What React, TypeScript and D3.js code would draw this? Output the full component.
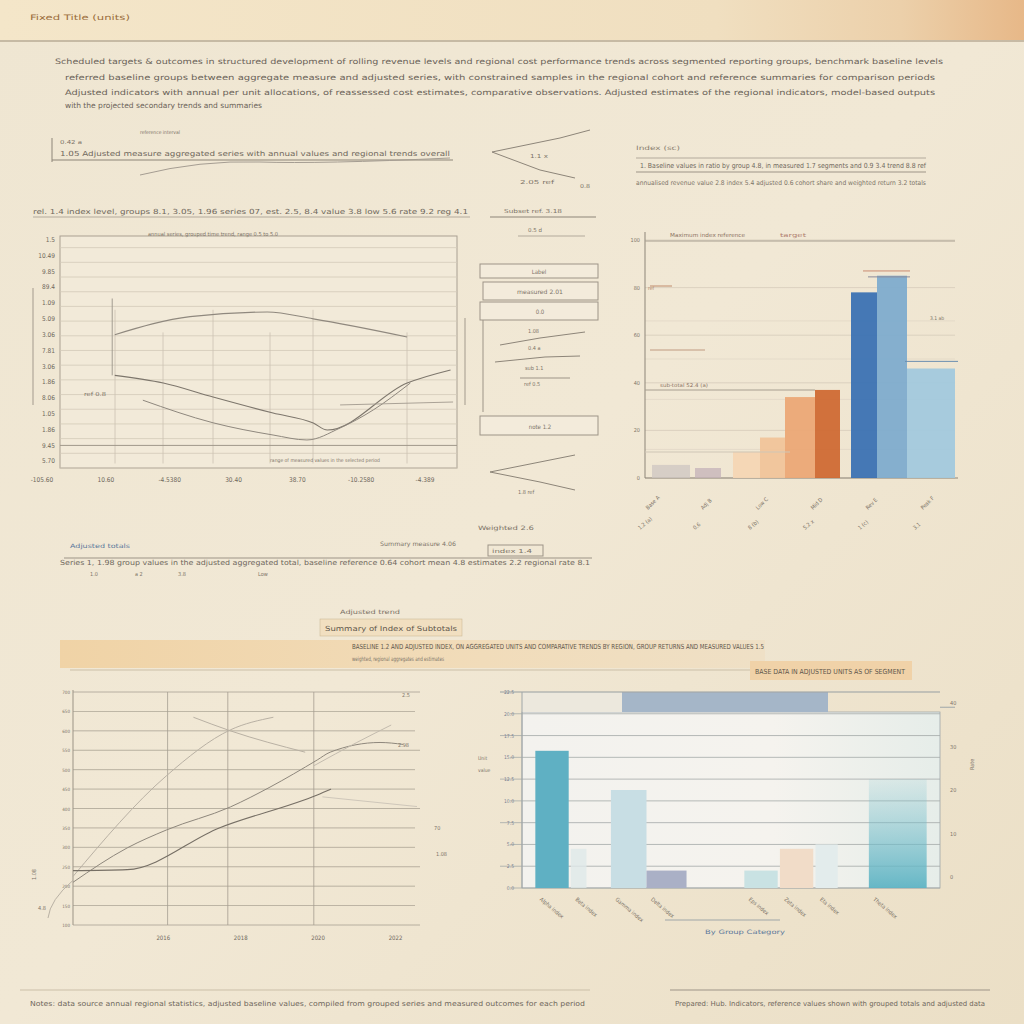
import React from "react";
import * as d3 from "d3";

// ---------- DATA ----------
const lineXLabels = ["-105.60", "10.60", "-4.5380", "30.40", "38.70", "-10.2580", "-4.389"];
const lineYTicks = ["1.5", "10.49", "9.85", "89.4", "1.09", "5.09", "3.06", "7.81", "3.06", "1.86", "8.06", "1.05", "1.86", "9.45", "5.70"];
const lineA = [[1.14, 59], [2.32, 67], [3.53, 69], [4.25, 66], [5.72, 58]];
const lineB = [[1.14, 41], [1.9, 37.6], [2.68, 31.4], [3.62, 24.3], [4.25, 19.9], [4.47, 16.8], [5.72, 37.6], [6.4, 43.4]];
const lineC = [[1.58, 30], [2.68, 20], [3.62, 14.6], [4.15, 12.4], [4.67, 17.7], [5.19, 25.7], [5.77, 37.6]];
const lineD = [[4.67, 27.9], [6.44, 29.2]];

const barCats = ["Q1 base", "Q1 adj", "Q2 low", "Q2 lowb", "Q2 mid", "Q2 rev", "Q3 peak", "Q3 adj", "Q4 est"];
const barVals = [5.5, 4.2, 11, 17, 34, 37, 78, 85, 46];
const barStart = [652, 695, 733, 760, 785, 815, 851, 877, 907];
const barEnd = [690, 721, 760, 785, 815, 840, 877, 907, 955];
const barColors = ["#cdc6c2", "#c4b1b8", "#f4d6b4", "#f0c49a", "#eba876", "#cf6a34", "#3b72b3", "#7eaccd", "#a2c9dd"];
const barYTicks = [0, 20, 40, 60, 80, 100];
const barXLabels = ["Base A", "Adj B", "Low C", "Mid D", "Rev E", "Peak F"];
const barXLabels2 = ["1.2 (a)", "0.6", "8 (b)", "5.2 x", "1 (c)", "3.1"];

const trendXLabels = ["2016", "2018", "2020", "2022"];
const trendYTicks = [0, 1, 2, 3, 4, 5, 6, 7, 8, 9, 10, 11, 12];
const trend1 = [[0, 2.5], [1.09, 7.7], [1.83, 10.05], [2.33, 10.7]];
const trend2 = [[0, 2.2], [0.63, 3.97], [1.09, 4.9], [1.83, 6.08], [2.29, 7.1], [2.84, 8.5], [2.99, 8.9], [3.57, 9.4], [3.84, 9.3]];
const trend3 = [[0, 2.8], [0.63, 2.85], [1.7, 5.0], [2.84, 6.7], [3.0, 7.0]];
const trend4 = [[1.4, 10.7], [1.83, 10.0], [2.7, 8.9]];
const trend5 = [[2.8, 8.2], [3.3, 9.4], [3.7, 10.3]];
const trend6 = [[2.9, 6.6], [4.0, 6.1]];

const colCats = ["Alpha", "Beta", "Gamma", "Delta", "Eps", "Zeta", "Eta", "Theta"];
const colVals = [6.3, 1.8, 4.5, 0.8, 0.8, 1.8, 2.0, 5.0];
const colX = [0.3, 1.1, 2.0, 2.8, 5.0, 5.8, 6.6, 7.8];
const colW = [0.75, 0.35, 0.8, 0.9, 0.75, 0.75, 0.5, 1.3];
const colColors = ["#5fb0c3", "#dfe9e8", "#c8dee4", "#aab0c6", "#c9e2e3", "#f1dcc8", "#e3ecec", "#7fc3cf"];
const colYTicks = [0, 1, 2, 3, 4, 5, 6, 7, 8, 9];

const paraLines = [
  "Scheduled targets & outcomes in structured development of rolling revenue levels and regional cost performance trends across segmented reporting groups, benchmark baseline levels",
  "referred baseline groups between aggregate measure and adjusted series, with constrained samples in the regional cohort and reference summaries for comparison periods",
  "Adjusted indicators with annual per unit allocations, of reassessed cost estimates, comparative observations. Adjusted estimates of the regional indicators, model-based outputs",
  "with the projected secondary trends and summaries",
];

// ---------- helpers ----------
const FONT = "DejaVu Sans Condensed, DejaVu Sans, sans-serif";
const T = (p: any) => (
  <text fontFamily={FONT} fontSize={p.fs || 6} fill={p.fill || "#7d7468"} x={p.x} y={p.y}
    textLength={p.w} lengthAdjust={p.w ? "spacingAndGlyphs" : undefined} textAnchor={p.anchor || "start"}
    transform={p.rot ? `rotate(${p.rot},${p.x},${p.y})` : undefined} opacity={p.op || 1}>{p.t}</text>
);

export default function App() {
  // chart 1
  const x1 = d3.scaleLinear().domain([0, 6]).range([42, 425]);
  const y1 = d3.scaleLinear().domain([0, 100]).range([468, 242]);
  const ln1 = d3.line<number[]>().x(d => x1(d[0])).y(d => y1(d[1])).curve(d3.curveMonotoneX);
  // chart 2
  const x2 = d3.scaleLinear().domain([0, 1]).range([0, 1]);
  const y2 = d3.scaleLinear().domain([0, 100]).range([478, 240]);
  // chart 3
  const x3 = d3.scaleLinear().domain([0, 4]).range([73, 417]);
  const y3 = d3.scaleLinear().domain([0, 12]).range([925, 692]);
  const ln3 = d3.line<number[]>().x(d => x3(d[0])).y(d => y3(d[1])).curve(d3.curveMonotoneX);
  // chart 4
  const x4 = d3.scaleLinear().domain([0, 9.4]).range([522, 940]);
  const y4 = d3.scaleLinear().domain([0, 9]).range([888, 692]);

  return (
    <svg width={1024} height={1024} style={{ position: "absolute", left: 0, top: 0 }}>
      <defs>
        <linearGradient id="hdr" x1="0" x2="1">
          <stop offset="0" stopColor="#f4e6c9" />
          <stop offset="0.7" stopColor="#f0dfc0" />
          <stop offset="0.88" stopColor="#ecd0aa" />
          <stop offset="1" stopColor="#e7b888" />
        </linearGradient>
        <linearGradient id="bg" x1="0" y1="0" x2="1" y2="1">
          <stop offset="0" stopColor="#efe6d2" />
          <stop offset="0.5" stopColor="#f1e8d5" />
          <stop offset="1" stopColor="#ebdfc6" />
        </linearGradient>
        <linearGradient id="band" x1="0" x2="1">
          <stop offset="0" stopColor="#f0d3a6" />
          <stop offset="0.6" stopColor="#f1dcba" />
          <stop offset="1" stopColor="#efe0c6" />
        </linearGradient>
        <linearGradient id="plot4" x1="0" x2="1">
          <stop offset="0" stopColor="#f3f2ee" />
          <stop offset="0.6" stopColor="#f5f3ee" />
          <stop offset="1" stopColor="#e6ede9" />
        </linearGradient>
        <linearGradient id="tealfade" x1="0" y1="0" x2="0" y2="1">
          <stop offset="0" stopColor="#7fc3cf" stopOpacity="0.15" />
          <stop offset="1" stopColor="#5fb4c4" stopOpacity="0.95" />
        </linearGradient>
      </defs>
      <rect width={1024} height={1024} fill="url(#bg)" />
      <rect width={1024} height={40} fill="url(#hdr)" />
      <line x1={0} x2={1024} y1={41} y2={41} stroke="#b9ab95" strokeWidth={1.5} />
      <T x={30} y={20} t="Fixed Title (units)" w={100} fs={7.5} fill="#9a6d3c" />

      {paraLines.map((s, i) => (
        <T key={i} x={i === 0 ? 55 : 65} y={64 + i * 15.5 - (i === 3 ? 3 : 0)} t={s} w={i === 3 ? 197 : i === 0 ? 888 : 870} fs={7.5} fill="#6a6258" />
      ))}

      {/* top-left annotation rows */}
      <g>
        <line x1={52} x2={453} y1={160} y2={160} stroke="#8d8579" strokeWidth={1} />
        <line x1={52} x2={52} y1={138} y2={162} stroke="#8d8579" />
        <T x={140} y={134} t="reference interval" w={40} fs={5} />
        <T x={60} y={144} t="0.42 a" w={22} fs={5.5} />
        <T x={60} y={156} t="1.05 Adjusted measure aggregated series with annual values and regional trends overall" w={390} fs={7} fill="#6f675c" />
        <path d="M140,175 Q200,160 260,162 T450,158" fill="none" stroke="#a59d92" />
        <T x={33} y={214} t="rel. 1.4 index level, groups 8.1, 3.05, 1.96 series 07, est. 2.5, 8.4 value 3.8 low 5.6 rate 9.2 reg 4.1" w={435} fs={7} fill="#6f675c" />
        <line x1={33} x2={470} y1={217} y2={217} stroke="#b3aa9c" />
        <line x1={490} x2={596} y1={217} y2={217} stroke="#8d8579" />
        <T x={504} y={213} t="Subset ref. 3.18" w={58} fs={5.5} />
        <T x={528} y={232} t="0.5 d" w={14} fs={5.5} />
        <line x1={518} x2={585} y1={236} y2={236} stroke="#b3aa9c" />
        <path d="M492,152 L560,138 L590,130" fill="none" stroke="#8d8579" />
        <path d="M492,152 L540,170 L575,178" fill="none" stroke="#8d8579" />
        <T x={530} y={158} t="1.1 x" w={18} fs={5.5} />
        <T x={520} y={184} t="2.05 ref" w={34} fs={5.5} />
        <T x={580} y={188} t="0.8" w={10} fs={5.5} />
      </g>

      {/* top-right annotation */}
      <T x={636} y={150} t="Index (sc)" w={44} fs={6} fill="#8a7f70" />
      <line x1={636} x2={926} y1={158} y2={158} stroke="#b3aa9c" />
      <T x={640} y={168} t="1. Baseline values in ratio by group 4.8, in measured 1.7 segments and 0.9 3.4 trend 8.8 ref" w={286} fs={7} fill="#6f675c" />
      <line x1={636} x2={926} y1={172} y2={172} stroke="#9d9487" />
      <T x={636} y={185} t="annualised revenue value 2.8 index 5.4 adjusted 0.6 cohort share and weighted return 3.2 totals" w={290} fs={6.5} />

      {/* ---------- Chart 1 ---------- */}
      <rect x={60} y={236} width={397} height={232} fill="#f2ead9" stroke="#a9a092" />
      {d3.range(0, 101, 6.5).map((v, i) => (
        <line key={i} x1={60} x2={457} y1={y1(v)} y2={y1(v)} stroke="#d3cab9" strokeWidth={0.8} />
      ))}
      {[115, 163, 213, 270, 313, 407].map((xx, i) => (
        <line key={i} x1={xx} x2={xx} y1={y1(i % 2 ? 60 : 70)} y2={y1(2)} stroke="#cbc2b2" strokeWidth={0.8} />
      ))}
      <line x1={60} x2={457} y1={y1(10)} y2={y1(10)} stroke="#9f978a" />
      {lineYTicks.map((s, i) => (
        <T key={i} x={55} y={y1(100 - i * 7)} t={s} fs={6.5} anchor="end" fill="#6f675c" />
      ))}
      {lineXLabels.map((s, i) => (
        <T key={i} x={x1(i)} y={482} t={s} fs={6.5} anchor="middle" fill="#6f675c" />
      ))}
      <T x={148} y={236} t="annual series, grouped time trend, range 0.5 to 5.0" w={130} fs={5.5} />
      <path d={`M${x1(1.1)},${y1(75)} L${x1(1.1)},${y1(41)}`} fill="none" stroke="#9a9388" strokeWidth={0.9} />
      <path d={ln1(lineA) || ""} fill="none" stroke="#8f887e" strokeWidth={1.1} />
      <path d={ln1(lineB) || ""} fill="none" stroke="#7d766c" strokeWidth={1.1} />
      <path d={ln1(lineC) || ""} fill="none" stroke="#8f887e" strokeWidth={1} />
      <path d={ln1(lineD) || ""} fill="none" stroke="#a19a8f" strokeWidth={0.9} />
      <line x1={33} x2={33} y1={288} y2={405} stroke="#a39a8d" />
      <line x1={465} x2={465} y1={318} y2={405} stroke="#a39a8d" />
      <T x={84} y={396} t="ref 0.8" w={22} fs={5.5} />
      <T x={270} y={462} t="range of measured values in the selected period" w={110} fs={5} />

      {/* middle panel */}
      <g>
        <rect x={480} y={264} width={118} height={14} fill="#f3ebdb" stroke="#9d9487" />
        <T x={539} y={274} t="Label" fs={6} anchor="middle" />
        <rect x={483} y={282} width={115} height={18} fill="#f3ebdb" stroke="#9d9487" />
        <T x={540} y={294} t="measured 2.01" w={46} fs={6} anchor="middle" />
        <rect x={480} y={302} width={118} height={18} fill="#f3ebdb" stroke="#9d9487" />
        <T x={540} y={314} t="0.0" fs={6} anchor="middle" />
        <line x1={483} x2={483} y1={320} y2={412} stroke="#9d9487" />
        <T x={528} y={333} t="1.08" fs={5.5} />
        <path d="M500,345 L540,338 L585,332" fill="none" stroke="#8d8579" />
        <T x={528} y={350} t="0.4 a" fs={5.5} />
        <path d="M495,362 L545,357 L580,356" fill="none" stroke="#8d8579" />
        <T x={525} y={370} t="sub 1.1" fs={5.5} />
        <line x1={520} x2={570} y1={378} y2={378} stroke="#9d9487" />
        <T x={524} y={386} t="ref 0.5" fs={5.5} />
        <rect x={480} y={416} width={118} height={19} fill="#f3ebdb" stroke="#9d9487" />
        <T x={540} y={429} t="note 1.2" fs={6} anchor="middle" />
        <path d="M490,472 L540,462 L575,455" fill="none" stroke="#8d8579" />
        <path d="M490,472 L540,482 L575,490" fill="none" stroke="#8d8579" />
        <T x={518} y={494} t="1.8 ref" fs={5.5} />
      </g>

      {/* ---------- Chart 2 ---------- */}
      {barYTicks.map((v, i) => (
        <line key={i} x1={645} x2={955} y1={y2(v)} y2={y2(v)} stroke="#d5cbba" strokeWidth={0.8} />
      ))}
      {[12, 33, 50, 66].map((v, i) => (
        <line key={"h" + i} x1={645} x2={955} y1={y2(v)} y2={y2(v)} stroke="#ddd3c2" strokeWidth={0.6} />
      ))}
      <line x1={645} x2={645} y1={232} y2={478} stroke="#8d8579" />
      <line x1={645} x2={958} y1={478} y2={478} stroke="#8d8579" />
      <line x1={645} x2={955} y1={241} y2={241} stroke="#a79e90" />
      <T x={670} y={237} t="Maximum index reference" w={75} fs={5.5} fill="#8a7060" />
      <T x={780} y={237} t="target" w={26} fs={5.5} fill="#b08070" />
      {barCats.map((c, i) => (
        <rect key={c} x={x2(barStart[i])} y={y2(barVals[i])} width={x2(barEnd[i]) - x2(barStart[i])} height={478 - y2(barVals[i])}
          fill={barColors[i]} opacity={i < 2 ? 0.75 : 0.95} />
      ))}
      <line x1={863} x2={910} y1={y2(87)} y2={y2(87)} stroke="#c98c70" />
      <line x1={868} x2={910} y1={y2(84.5)} y2={y2(84.5)} stroke="#8a8a9a" />
      <line x1={905} x2={958} y1={y2(49)} y2={y2(49)} stroke="#6b8fb0" />
      {barYTicks.map((v, i) => (
        <T key={i} x={640} y={y2(v) + 2} t={String(v)} fs={5.5} anchor="end" />
      ))}
      <T x={648} y={290} t="ref" fs={5} fill="#b07f60" />
      <line x1={650} x2={672} y1={286} y2={286} stroke="#c08c6c" />
      <line x1={650} x2={705} y1={350} y2={350} stroke="#c09a80" />
      <T x={660} y={387} t="sub-total 52.4 (a)" w={48} fs={5} fill="#8a7060" />
      <line x1={645} x2={815} y1={390} y2={390} stroke="#a79e90" />
      <line x1={645} x2={790} y1={452} y2={452} stroke="#cfc6b6" />
      <T x={930} y={320} t="3.1 ab" fs={5} />
      {barXLabels.map((c, i) => (
        <T key={c} x={648 + i * 55} y={510} t={c} fs={5.5} rot={-45} />
      ))}
      {barXLabels2.map((s, i) => (
        <T key={i} x={640 + i * 55} y={530} t={s} fs={5.5} rot={-40} />
      ))}

      {/* bottom-left annotation */}
      <T x={70} y={548} t="Adjusted totals" w={60} fs={6} fill="#5d7a9c" />
      <T x={380} y={546} t="Summary measure 4.06" w={76} fs={6} />
      <T x={478} y={530} t="Weighted 2.6" w={56} fs={6} />
      <rect x={488} y={545} width={55} height={11} fill="none" stroke="#9d9487" />
      <T x={492} y={553} t="index 1.4" w={40} fs={5.5} />
      <line x1={64} x2={592} y1={558} y2={558} stroke="#9d9487" />
      <T x={60} y={565} t="Series 1, 1.98 group values in the adjusted aggregated total, baseline reference 0.64 cohort mean 4.8 estimates 2.2 regional rate 8.1" w={530} fs={7} fill="#6f675c" />
      <T x={90} y={576} t="1.0" fs={5.5} />
      <T x={135} y={576} t="a 2" fs={5.5} />
      <T x={178} y={576} t="3.8" fs={5.5} />
      <T x={258} y={576} t="Low" fs={5.5} />

      {/* orange band */}
      <rect x={320} y={619} width={142} height={17} fill="#f1dfc0" stroke="#c8b28e" strokeWidth={0.5} />
      <T x={340} y={614} t="Adjusted trend" w={60} fs={6} />
      <T x={325} y={631} t="Summary of Index of Subtotals" w={132} fs={7} fill="#5e564b" />
      <rect x={60} y={640} width={705} height={28} fill="url(#band)" />
      <T x={352} y={649} t="BASELINE 1.2 AND ADJUSTED INDEX, ON AGGREGATED UNITS AND COMPARATIVE TRENDS BY REGION, GROUP RETURNS AND MEASURED VALUES 1.5" w={412} fs={7} fill="#5e564b" />
      <T x={352} y={661} t="weighted, regional aggregates and estimates" w={92} fs={6} />
      <rect x={750} y={661} width={162} height={19} fill="#f0d2a8" />
      <T x={755} y={674} t="BASE DATA IN ADJUSTED UNITS AS OF SEGMENT" w={150} fs={7} fill="#5e564b" />
      <line x1={70} x2={750} y1={670} y2={670} stroke="#cbbfa8" />

      {/* ---------- Chart 3 ---------- */}
      {trendYTicks.map((v) => (
        <line key={v} x1={73} x2={v % 3 === 0 ? 420 : 415} y1={y3(v)} y2={y3(v)} stroke="#9b9385" strokeWidth={0.8} opacity={0.8} />
      ))}
      {[1.1, 1.8, 2.8].map((v, i) => (
        <line key={i} x1={x3(v)} x2={x3(v)} y1={692} y2={925} stroke="#a59d90" strokeWidth={0.8} />
      ))}
      <line x1={73} x2={73} y1={690} y2={925} stroke="#9b9385" />
      {trendYTicks.map((v) => (
        <T key={v} x={70} y={y3(v) + 2} t={String(100 + v * 50)} fs={4.5} anchor="end" />
      ))}
      {trendXLabels.map((s, i) => (
        <T key={s} x={x3(1.05 + i * 0.9)} y={940} t={s} fs={6} anchor="middle" fill="#6f675c" />
      ))}
      <path d={ln3(trend1) || ""} fill="none" stroke="#b9b1a4" strokeWidth={1} />
      <path d={ln3(trend2) || ""} fill="none" stroke="#8e877c" strokeWidth={1} />
      <path d={ln3(trend3) || ""} fill="none" stroke="#766f65" strokeWidth={1.1} />
      <path d={ln3(trend4) || ""} fill="none" stroke="#b9b1a4" strokeWidth={1} />
      <path d={ln3(trend5) || ""} fill="none" stroke="#c3bbae" strokeWidth={1} />
      <path d={ln3(trend6) || ""} fill="none" stroke="#cfc7ba" strokeWidth={1} />
      <path d={`M${x3(0)},${y3(2.3)} Q50,900 48,918`} fill="none" stroke="#b9b1a4" />
      <T x={36} y={880} t="1.08" fs={5.5} rot={-90} />
      <T x={38} y={910} t="4.8" fs={5.5} />
      <T x={434} y={830} t="70" fs={5.5} />
      <T x={436} y={856} t="1.08" fs={5.5} />
      <T x={402} y={697} t="2.5" fs={5.5} />
      <T x={398} y={747} t="2.98" fs={5.5} />

      {/* ---------- Chart 4 ---------- */}
      <rect x={522} y={712} width={418} height={176} fill="url(#plot4)" stroke="#9fa6a8" strokeWidth={0.8} />
      <rect x={522} y={692} width={100} height={20} fill="#ece8dd" />
      <rect x={622} y={692} width={206} height={20} fill="#a5b6c8" />
      <line x1={500} x2={940} y1={692} y2={692} stroke="#9fa6a8" strokeWidth={0.6} />
      {colYTicks.map((v) => (
        <line key={v} x1={v % 2 ? 500 : 510} x2={940} y1={y4(v)} y2={y4(v)} stroke="#a5a9a8" strokeWidth={0.8} />
      ))}
      <line x1={522} x2={522} y1={692} y2={888} stroke="#9fa6a8" />
      {colCats.map((c, i) => (
        <rect key={c} x={x4(colX[i])} y={y4(colVals[i])} width={x4(colW[i]) - x4(0)} height={888 - y4(colVals[i])}
          fill={i === 7 ? "url(#tealfade)" : colColors[i]} opacity={i === 1 ? 0.8 : 1} />
      ))}
      {colYTicks.map((v) => (
        <T key={v} x={514} y={y4(v) + 2} t={(v * 2.5).toFixed(1)} fs={5} anchor="end" fill="#7a8292" />
      ))}
      {[0, 2, 4, 6, 8].map((v) => (
        <T key={"r" + v} x={950} y={y4(v + 0.4)} t={String(v * 5)} fs={5.5} />
      ))}
      <line x1={940} x2={955} y1={y4(8.3)} y2={y4(8.3)} stroke="#9fa6a8" />
      <T x={974} y={770} t="Rate" fs={5.5} rot={-90} />
      <T x={478} y={760} t="Unit" fs={5} />
      <T x={478} y={772} t="value" fs={5} />
      {colCats.map((c, i) => (
        <T key={c} x={x4(colX[i]) + 4} y={900} t={c + " index"} fs={5.5} rot={40} />
      ))}
      <line x1={665} x2={780} y1={920} y2={920} stroke="#9fa6a8" />
      <T x={705} y={934} t="By Group Category" w={80} fs={6} fill="#5d7a9c" />

      {/* footer */}
      <line x1={20} x2={590} y1={990} y2={990} stroke="#cbbfa8" />
      <line x1={670} x2={990} y1={990} y2={990} stroke="#9d9487" />
      <T x={30} y={1006} t="Notes: data source annual regional statistics, adjusted baseline values, compiled from grouped series and measured outcomes for each period" w={555} fs={7} fill="#6f675c" />
      <T x={675} y={1006} t="Prepared: Hub. Indicators, reference values shown with grouped totals and adjusted data" w={310} fs={7} fill="#6f675c" />
    </svg>
  );
}
